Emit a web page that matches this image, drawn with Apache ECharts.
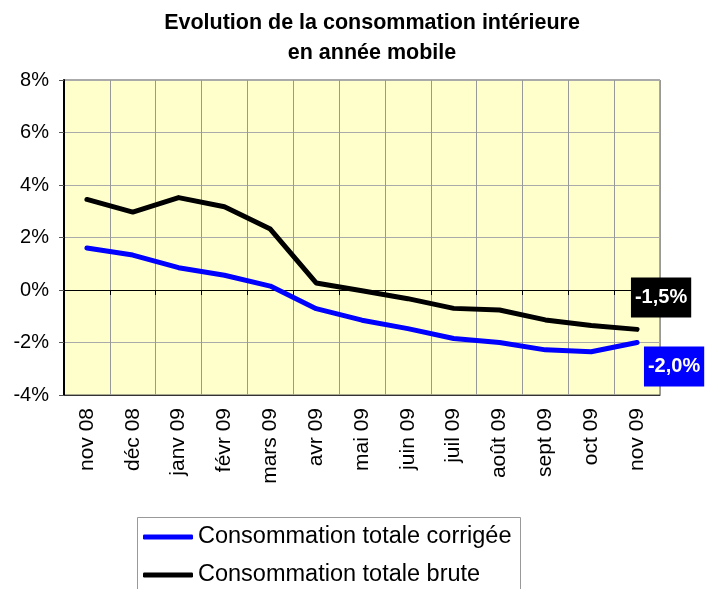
<!DOCTYPE html>
<html>
<head>
<meta charset="utf-8">
<script src="https://cdn.jsdelivr.net/npm/echarts@6/dist/echarts.min.js"></script>
<style>
html,body{margin:0;padding:0;background:#fff;}
#c{width:713px;height:589px;}
</style>
</head>
<body>
<div id="c"></div>
<script>
const categories = ['nov 08','déc 08','janv 09','févr 09','mars 09','avr 09','mai 09','juin 09','juil 09','août 09','sept 09','oct 09','nov 09'];
const corrigee = [1.6, 1.33, 0.85, 0.56, 0.15, -0.71, -1.15, -1.47, -1.85, -2.0, -2.28, -2.35, -2.0];
const brute = [3.45, 2.97, 3.52, 3.17, 2.32, 0.27, -0.03, -0.33, -0.7, -0.76, -1.14, -1.35, -1.5];
const yTicks = { min: -4, max: 8, interval: 2 };
const seriesNames = ['Consommation totale corrigée', 'Consommation totale brute'];

const FONT = '"Liberation Sans", Arial, sans-serif';
function fmt(v){ return v.toFixed(1).replace('.', ',') + '%'; }
function buildData(arr, labelOpts){
  return arr.map((v, i) => {
    if (i === arr.length - 1) {
      return { value: v, label: Object.assign({
        show: true, position: 'inside', color: '#fff', fontWeight: 'bold',
        fontSize: 20, fontFamily: FONT, lineHeight: 20, padding: [10, 4, 10, 4],
        formatter: p => fmt(p.value)
      }, labelOpts) };
    }
    return v;
  });
}

const chart = echarts.init(document.getElementById('c'), null, {renderer: 'canvas'});
chart.setOption({
  animation: false,
  backgroundColor: '#fff',
  title: {
    text: 'Evolution de la consommation intérieure\nen année mobile',
    left: 372, top: 8, textAlign: 'center', padding: 0,
    textStyle: { fontFamily: FONT, fontSize: 21.5, fontWeight: 'bold', color: '#000', lineHeight: 30 }
  },
  grid: {
    left: 64, right: 53, top: 80, bottom: 194,
    show: true, backgroundColor: '#FFFFCC', borderColor: '#555', borderWidth: 1
  },
  graphic: [{
    type: 'rect', left: 137, top: 517, silent: true, z: -1,
    shape: { width: 383, height: 100 },
    style: { fill: '#fff', stroke: '#999', lineWidth: 1 }
  }],
  legend: {
    orient: 'vertical', left: 137, top: 518,
    padding: [6, 0, 0, 6], itemGap: 12,
    itemWidth: 50, itemHeight: 5, icon: 'roundRect',
    textStyle: { fontFamily: FONT, fontSize: 23.5, color: '#000', lineHeight: 26 },
    data: seriesNames
  },
  xAxis: [
    {
      type: 'category', data: categories, position: 'bottom', boundaryGap: true,
      axisLine: { show: true, onZero: false, lineStyle: { color: '#333', width: 1 } },
      axisTick: { show: false },
      splitLine: { show: true, lineStyle: { color: '#999', width: 1 } },
      axisLabel: { rotate: 90, fontSize: 21, fontFamily: FONT, color: '#000', margin: 13, interval: 0 }
    },
    {
      type: 'category', data: categories, position: 'bottom', boundaryGap: true,
      axisLine: { show: true, onZero: true, lineStyle: { color: '#000', width: 1 } },
      axisTick: { show: true, length: 5, lineStyle: { color: '#000' }, interval: 0 },
      splitLine: { show: false },
      axisLabel: { show: false }
    }
  ],
  yAxis: {
    type: 'value', min: yTicks.min, max: yTicks.max, interval: yTicks.interval,
    axisLine: { show: true, lineStyle: { color: '#000', width: 2 } },
    axisTick: { show: true, length: 5, lineStyle: { color: '#555' } },
    splitLine: { show: true, lineStyle: { color: '#aaa', width: 1 } },
    axisLabel: { formatter: '{value}%', fontSize: 20, fontFamily: FONT, color: '#000', margin: 15 }
  },
  series: [
    {
      name: seriesNames[0], type: 'line', xAxisIndex: 0,
      data: buildData(corrigee, { backgroundColor: '#0000FF', offset: [37, 24] }),
      symbol: 'circle', symbolSize: 1, showSymbol: true,
      itemStyle: { color: '#0000FF' },
      lineStyle: { color: '#0000FF', width: 5, cap: 'round', join: 'round' },
      z: 3
    },
    {
      name: seriesNames[1], type: 'line', xAxisIndex: 0,
      data: buildData(brute, { backgroundColor: '#000000', offset: [24, -32] }),
      symbol: 'circle', symbolSize: 1, showSymbol: true,
      itemStyle: { color: '#000000' },
      lineStyle: { color: '#000000', width: 5, cap: 'round', join: 'round' },
      z: 3
    }
  ]
});
</script>
</body>
</html>
